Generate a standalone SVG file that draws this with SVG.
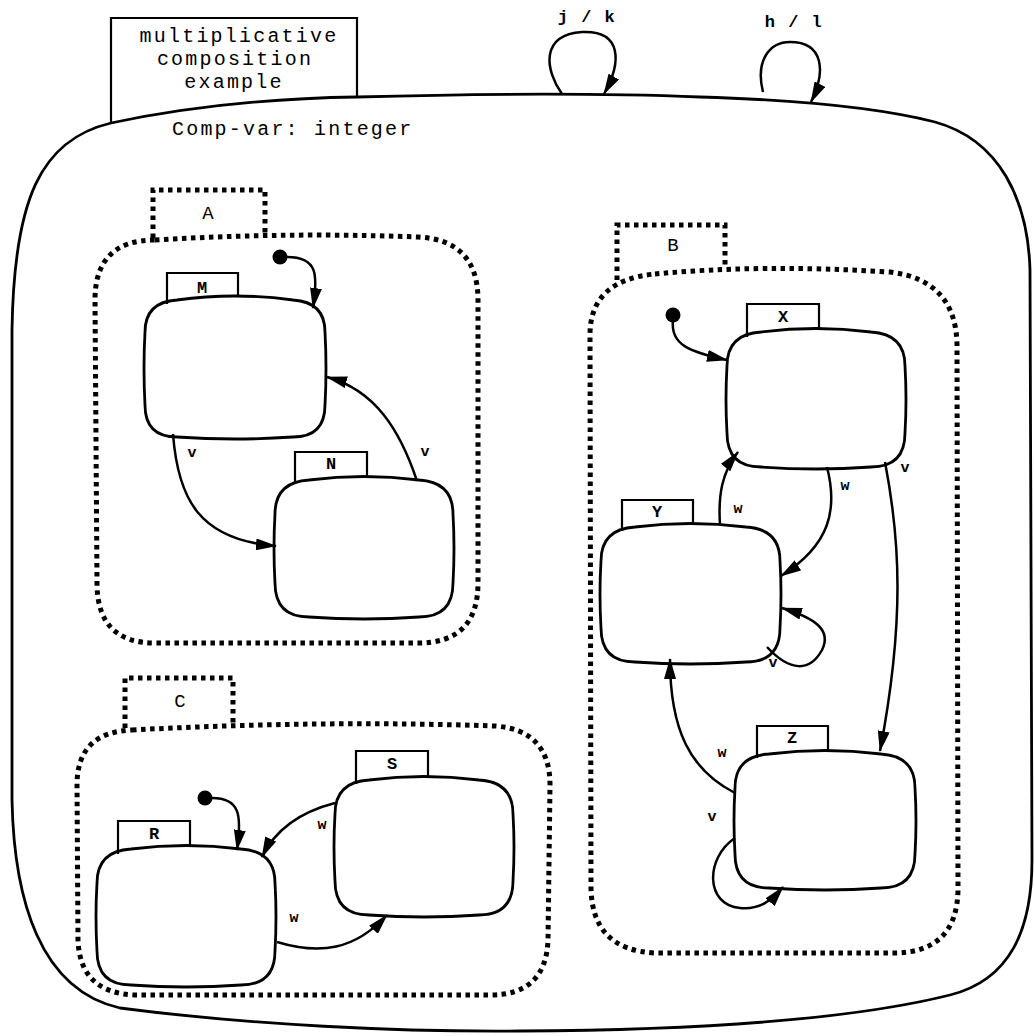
<svg xmlns="http://www.w3.org/2000/svg" width="1034" height="1036" viewBox="0 0 1034 1036">
<style>
.ln{fill:none;stroke:#000;stroke-width:2.8;stroke-linejoin:round}
.tab{fill:none;stroke:#000;stroke-width:2.2}
.dot{fill:none;stroke:#000;stroke-width:5;stroke-dasharray:4.5 4.5}
.cn{fill:none;stroke:#000;stroke-width:2.5}
.big{font-family:"Liberation Mono","Courier New",monospace;font-size:20px;letter-spacing:2.2px;fill:#000}
.lab{font-family:"Liberation Mono","Courier New",monospace;font-size:15px;font-weight:bold;fill:#000;text-anchor:middle}
.ev{font-family:"Liberation Mono","Courier New",monospace;font-size:17px;font-weight:bold;letter-spacing:1.5px;fill:#000;text-anchor:middle}
.st{font-family:"Liberation Mono","Courier New",monospace;font-size:17px;font-weight:bold;fill:#000;text-anchor:middle}
.cp{font-family:"Liberation Mono","Courier New",monospace;font-size:19px;fill:#000;text-anchor:middle}
</style>
<defs>
<marker id="ah" markerUnits="userSpaceOnUse" markerWidth="21" markerHeight="12" refX="20" refY="6" orient="auto">
<path d="M0,0 L21,6 L0,12 Z" fill="#000"/>
</marker>
</defs>
<rect width="1034" height="1036" fill="#fff"/>

<g id="root">
<path class="ln" d="M 111,123 C 200,104 290,98 357,97 C 500,93 600,93 700,97 C 800,100 880,108 935,122 C 1000,140 1028,200 1030,270 L 1032,860 C 1032,930 1010,980 950,995 C 850,1020 700,1030 520,1031 C 400,1032 250,1025 120,1008 C 40,990 14,900 12,800 L 12,330 C 14,200 40,140 111,123 Z"/>
<path class="tab" d="M 111,123 L 111,18 L 357,18 L 357,97"/>
<text class="big" x="239" y="42" text-anchor="middle">multiplicative</text>
<text class="big" x="235" y="65" text-anchor="middle">composition</text>
<text class="big" x="234" y="88" text-anchor="middle">example</text>
<text class="big" x="172" y="135">Comp-var: integer</text>
</g>

<g id="A">
<path class="dot" d="M 155,240 Q 286,232 418,237 Q 478,240 478,300 L 478,583 Q 478,643 418,643 L 155,643 Q 97,643 97,583 L 95,300 Q 95,240 155,240 Z"/>
<path class="dot" d="M 153,238 L 153,190 L 265,190 L 265,236"/>
<text class="cp" x="208" y="219">A</text>
</g>
<g id="M">
<path class="ln" d="M 177,300 Q 235,292 293,300 Q 325,302 325,332 Q 327,368 325,405 Q 325,437 293,437 Q 235,441 177,437 Q 145,437 145,405 Q 143,368 145,332 Q 145,302 177,300 Z"/>
<path class="tab" d="M 167,304 L 167,273 L 238,273 L 238,297"/>
<text class="st" x="202" y="293">M</text>
</g>
<g id="N">
<path class="ln" d="M 309,480 Q 364,473 419,480 Q 453,482 453,514 Q 455,548 453,583 Q 453,617 419,617 Q 364,621 309,617 Q 275,617 275,583 Q 273,548 275,514 Q 275,482 309,480 Z"/>
<path class="tab" d="M 295,484 L 295,452 L 367,452 L 367,476"/>
<text class="st" x="331" y="469">N</text>
</g>

<g id="B">
<path class="dot" d="M 655,274 Q 760,264 890,272 Q 956,280 957,345 L 958,888 Q 958,953 893,953 L 655,953 Q 592,950 591,888 L 590,335 Q 590,280 655,274 Z"/>
<path class="dot" d="M 617,280 L 617,225 L 725,225 L 725,265"/>
<text class="cp" x="673" y="251">B</text>
</g>
<g id="X">
<path class="ln" d="M 761,332 Q 816,325 871,332 Q 905,334 905,366 Q 907,400 905,433 Q 905,467 871,467 Q 816,471 761,467 Q 727,467 727,433 Q 725,400 727,366 Q 727,334 761,332 Z"/>
<path class="tab" d="M 747,337 L 747,304 L 819,304 L 819,329"/>
<text class="st" x="783" y="322">X</text>
</g>
<g id="Y">
<path class="ln" d="M 635,527 Q 690,520 746,527 Q 780,529 780,561 Q 782,594 780,628 Q 780,662 746,662 Q 690,666 635,662 Q 601,662 601,628 Q 599,594 601,561 Q 601,529 635,527 Z"/>
<path class="tab" d="M 622,531 L 622,500 L 693,500 L 693,523"/>
<text class="st" x="657" y="517">Y</text>
</g>
<g id="Z">
<path class="ln" d="M 769,754 Q 825,747 881,754 Q 915,756 915,788 Q 917,821 915,854 Q 915,888 881,888 Q 825,892 769,888 Q 735,888 735,854 Q 733,821 735,788 Q 735,756 769,754 Z"/>
<path class="tab" d="M 757,758 L 757,726 L 828,726 L 828,750"/>
<text class="st" x="792" y="743">Z</text>
</g>

<g id="C">
<path class="dot" d="M 132,730 Q 320,720 495,726 Q 550,730 550,785 L 548,940 Q 546,995 490,995 L 135,995 Q 80,993 78,940 L 77,785 Q 77,732 132,730 Z"/>
<path class="dot" d="M 125,728 L 125,678 L 233,678 L 233,724"/>
<text class="cp" x="180" y="707">C</text>
</g>
<g id="R">
<path class="ln" d="M 131,849 Q 186,842 241,849 Q 275,851 275,883 Q 277,916 275,951 Q 275,985 241,985 Q 186,989 131,985 Q 97,985 97,951 Q 95,916 97,883 Q 97,851 131,849 Z"/>
<path class="tab" d="M 118,854 L 118,821 L 190,821 L 190,845"/>
<text class="st" x="154" y="839">R</text>
</g>
<g id="S">
<path class="ln" d="M 369,780 Q 424,773 479,780 Q 513,782 513,814 Q 515,847 513,881 Q 513,915 479,915 Q 424,919 369,915 Q 335,915 335,881 Q 333,847 335,814 Q 335,782 369,780 Z"/>
<path class="tab" d="M 356,784 L 356,751 L 428,751 L 428,776"/>
<text class="st" x="392" y="769">S</text>
</g>

<g id="connectors">
<path class="cn" marker-end="url(#ah)" d="M 562,94 C 545,70 540,35 582,32 C 622,30 622,62 604,94"/>
<path class="cn" marker-end="url(#ah)" d="M 763,92 C 755,60 770,42 790,42 C 824,42 826,72 811,102"/>
<circle cx="280" cy="257" r="7.5" fill="#000"/>
<path class="cn" marker-end="url(#ah)" d="M 287,257 C 318,257 318,275 313,308"/>
<path class="cn" marker-end="url(#ah)" d="M 173,434 C 178,500 200,540 276,546"/>
<path class="cn" marker-end="url(#ah)" d="M 417,481 C 400,430 375,390 327,377"/>
<circle cx="673" cy="315" r="7.5" fill="#000"/>
<path class="cn" marker-end="url(#ah)" d="M 673,320 C 670,345 690,352 727,360"/>
<path class="cn" marker-end="url(#ah)" d="M 720,525 C 718,495 722,472 738,452"/>
<path class="cn" marker-end="url(#ah)" d="M 827,467 C 838,510 830,545 781,576"/>
<path class="cn" marker-end="url(#ah)" d="M 767,647 C 790,672 810,672 822,650 C 832,630 815,618 782,608"/>
<path class="cn" marker-end="url(#ah)" d="M 885,462 C 900,540 905,620 880,751"/>
<path class="cn" marker-end="url(#ah)" d="M 735,793 C 690,770 670,730 670,659"/>
<path class="cn" marker-end="url(#ah)" d="M 735,838 C 705,858 705,905 740,908 C 760,910 772,900 783,887"/>
<circle cx="205" cy="798" r="7.5" fill="#000"/>
<path class="cn" marker-end="url(#ah)" d="M 212,798 C 240,798 242,815 237,850"/>
<path class="cn" marker-end="url(#ah)" d="M 335,803 C 300,812 275,830 262,857"/>
<path class="cn" marker-end="url(#ah)" d="M 277,942 C 320,955 355,950 387,915"/>
<text class="ev" x="587" y="22">j / k</text>
<text class="ev" x="794" y="27">h / l</text>
<text class="lab" x="192" y="457">v</text>
<text class="lab" x="425" y="456">v</text>
<text class="lab" x="738" y="513">w</text>
<text class="lab" x="845" y="490">w</text>
<text class="lab" x="905" y="472">v</text>
<text class="lab" x="773" y="667">v</text>
<text class="lab" x="722" y="757">w</text>
<text class="lab" x="712" y="821">v</text>
<text class="lab" x="322" y="829">w</text>
<text class="lab" x="294" y="922">w</text>
</g>
</svg>
